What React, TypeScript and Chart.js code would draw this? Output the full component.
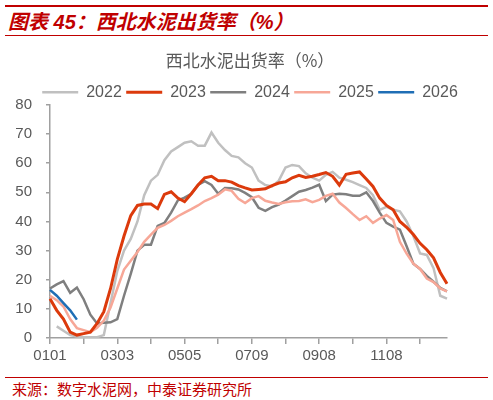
import React, { useEffect, useRef } from 'react';
import { Chart, registerables } from 'chart.js';

Chart.register(...registerables);

// categories (date labels, one label shown every 10 points)
const LABELS = [
    '0101', '0107', '0113', '0119', '0125', '0131', '0206', '0212', '0218', '0224',
    '0303', '0309', '0315', '0321', '0327', '0402', '0408', '0414', '0420', '0426',
    '0505', '0511', '0517', '0523', '0529', '0604', '0610', '0616', '0622', '0628',
    '0709', '0715', '0721', '0727', '0802', '0808', '0814', '0820', '0826', '0901',
    '0908', '0914', '0920', '0926', '1002', '1008', '1014', '1020', '1026', '1101',
    '1108', '1114', '1120', '1126', '1202', '1208', '1214', '1220', '1226', '1231',
];

const Y2022 = [
    null, 4, 2.5, 1, 0.5, 0.3, 0.3, 0.3, 1, 12,
    23, 30, 34, 40, 49, 54, 56, 61, 64, 65.5,
    67, 67.5, 66, 66, 70.5, 67, 64.5, 62.5, 62, 60,
    58.5, 54, 52.5, 52, 54, 58.5, 59.4, 59, 56.5, 55,
    54, 56, 57, 55, 54.3, 53.5, 52.5, 51.5, 49, 44,
    45, 44, 43.5, 40, 35, 29, 28.5, 24, 14.5, 13.5,
];
const Y2023 = [
    13.5, 9.5, 6.5, 2, 1, 1.5, 2, 5, 9, 17,
    27, 35, 42, 45.5, 46, 46, 44.4, 49.3, 50.2, 48,
    46.8, 49.5, 52.5, 55, 55.5, 54, 54, 53.5, 52.3, 51.5,
    50.8, 51, 51.2, 52.3, 53.2, 53.6, 55, 55.8, 55.1, 55.5,
    56.1, 56.8, 55.5, 52.5, 56.2, 56.6, 57, 54.6, 52, 48,
    45.5, 44, 40, 38, 35.5, 32.5, 30.3, 27.5, 22.5, 18.6,
];
const Y2024 = [
    17, 18.4, 19.5, 15.5, 17.3, 13.3, 8, 5, 5.2, 5.4,
    6.5, 14.5, 22, 30, 32, 32, 38.5, 39.5, 43, 47.2,
    48.2, 49.5, 52.5, 53.8, 52.5, 49.5, 51.5, 51.4, 51, 49.8,
    48.3, 44.7, 43.6, 44.9, 45.8, 47.2, 48.7, 50.2, 50.8, 51.6,
    52.6, 47, 49.2, 49.5, 49.3, 48.8, 48.8, 50, 47, 43,
    39.5, 38.2, 37.2, 31.5, 25.5, 23.7, 21.3, 19.3, 17.2, 16,
];
const Y2025 = [
    14.5, 13, 10.8, 6.5, 3.4, 2.7, 2, 3.5, 6, 10.5,
    17, 23.5, 26.5, 29.5, 33, 35.5, 37.8, 38.8, 40.2, 41.8,
    43, 44.2, 45.5, 47, 48, 49.2, 51, 50.5, 47.8, 46.3,
    48, 48.7, 47.1, 46.5, 46, 46.6, 46.9, 47, 47.6, 46.6,
    47.4, 48.8, 49.5, 46.5, 44.6, 42.5, 40.5, 41.8, 39.5, 41,
    42.2, 40.5, 33, 29, 25.5, 23.7, 20.4, 19.2, 17, 16,
];
const Y2026 = [16.5, 14.5, 12, 9.5, 6.3];

const Y_TICKS = [0, 10, 20, 30, 40, 50, 60, 70, 80];

const AXIS_GREY = '#a0a0a0';
const TEXT_GREY = '#595959';
const RED = '#c00000';

const ShipmentChart: React.FC = () => {
    const chartRef = useRef<HTMLCanvasElement>(null);

    useEffect(() => {
        let chartInstance: Chart | undefined;
        const ctx = chartRef.current?.getContext('2d');
        if (ctx) {
            const line = (label: string, data: (number | null)[], color: string, width: number, order: number) => ({
                label,
                data,
                borderColor: color,
                backgroundColor: color,
                borderWidth: width,
                pointRadius: 0,
                tension: 0,
                spanGaps: true,
                order,
            });
            chartInstance = new Chart(ctx, {
                type: 'line',
                data: {
                    labels: LABELS,
                    datasets: [
                        line('2022', Y2022, '#c0c0c0', 2.5, 4),
                        line('2023', Y2023, '#dc3a0c', 3, 1),
                        line('2024', Y2024, '#7f7f7f', 2.5, 3),
                        line('2025', Y2025, '#f7a797', 2.5, 2),
                        line('2026', Y2026, '#1f6eb5', 2.5, 0),
                    ],
                },
                options: {
                    animation: false,
                    responsive: true,
                    maintainAspectRatio: false,
                    layout: { padding: { left: 0, right: 0, top: 0, bottom: 2 } },
                    plugins: {
                        title: {
                            display: true,
                            text: '西北水泥出货率（%）',
                            color: TEXT_GREY,
                            font: { size: 17, family: "'Noto Sans CJK SC'", weight: 'normal' },
                            padding: { top: 10.5, bottom: 9 },
                        },
                        legend: {
                            position: 'top',
                            maxHeight: 25,
                            labels: {
                                usePointStyle: true,
                                pointStyle: 'line',
                                pointStyleWidth: 36,
                                padding: 4.4,
                                color: TEXT_GREY,
                                font: { size: 16, family: "'Liberation Sans', Arial" },
                                sort: (a, b) => (a.datasetIndex ?? 0) - (b.datasetIndex ?? 0),
                            },
                        },
                        tooltip: { enabled: false },
                    },
                    scales: {
                        x: {
                            offset: false,
                            grid: {
                                drawOnChartArea: false,
                                tickLength: 6,
                                lineWidth: 1.5,
                                color: (c) => (c.index % 5 === 0 ? AXIS_GREY : 'rgba(0,0,0,0)'),
                            },
                            border: { color: AXIS_GREY, width: 1.5 },
                            ticks: {
                                autoSkip: false,
                                maxRotation: 0,
                                padding: 3,
                                color: TEXT_GREY,
                                font: { size: 15, family: "'Liberation Sans', Arial" },
                                callback: (_v, i) => (i % 10 === 0 ? LABELS[i] : ''),
                            },
                        },
                        y: {
                            min: Y_TICKS[0],
                            max: Y_TICKS[Y_TICKS.length - 1],
                            afterFit: (s) => { s.width = 50; },
                            grid: { drawOnChartArea: false, tickLength: 4, lineWidth: 1.5, color: AXIS_GREY },
                            border: { color: AXIS_GREY, width: 1.5 },
                            ticks: {
                                stepSize: 10,
                                padding: 14,
                                color: TEXT_GREY,
                                font: { size: 15, family: "'Liberation Sans', Arial" },
                            },
                        },
                        // empty right axis, only reserves the margin right of the plot
                        yRight: {
                            position: 'right',
                            display: true,
                            afterFit: (s) => { s.width = 53; },
                            grid: { display: false },
                            border: { display: false },
                            ticks: { display: false },
                        },
                    },
                },
            });
        }
        return () => chartInstance?.destroy();
    }, []);

    return (
        <div style={{ position: 'absolute', left: 0, top: 40, width: 500, height: 330 }}>
            <canvas ref={chartRef}></canvas>
        </div>
    );
};

const App: React.FC = () => {
    return (
        <div style={{ position: 'absolute', left: 0, top: 0, width: 493, height: 400, overflow: 'hidden', background: '#fff' }}>
            <div style={{ position: 'absolute', left: 5, top: 5, width: 483, height: 2, background: RED }} />
            <div
                style={{
                    position: 'absolute', left: 8, top: 10, height: 24, lineHeight: '24px',
                    color: RED, fontSize: 20, fontWeight: 'bold', fontStyle: 'italic',
                    fontFamily: "'Liberation Sans', 'Noto Sans CJK SC', sans-serif", whiteSpace: 'nowrap',
                }}
            >
                图表 45：西北水泥出货率（%）
            </div>
            <div style={{ position: 'absolute', left: 5, top: 35, width: 483, height: 1, background: RED }} />
            <ShipmentChart />
            <div style={{ position: 'absolute', left: 5, top: 377, width: 483, height: 1, background: RED }} />
            <div
                style={{
                    position: 'absolute', left: 12, top: 380, height: 18, lineHeight: '18px',
                    color: RED, fontSize: 15, fontFamily: "'Noto Sans CJK SC', sans-serif", whiteSpace: 'nowrap',
                }}
            >
                来源：数字水泥网，中泰证券研究所
            </div>
        </div>
    );
};

export default App;
